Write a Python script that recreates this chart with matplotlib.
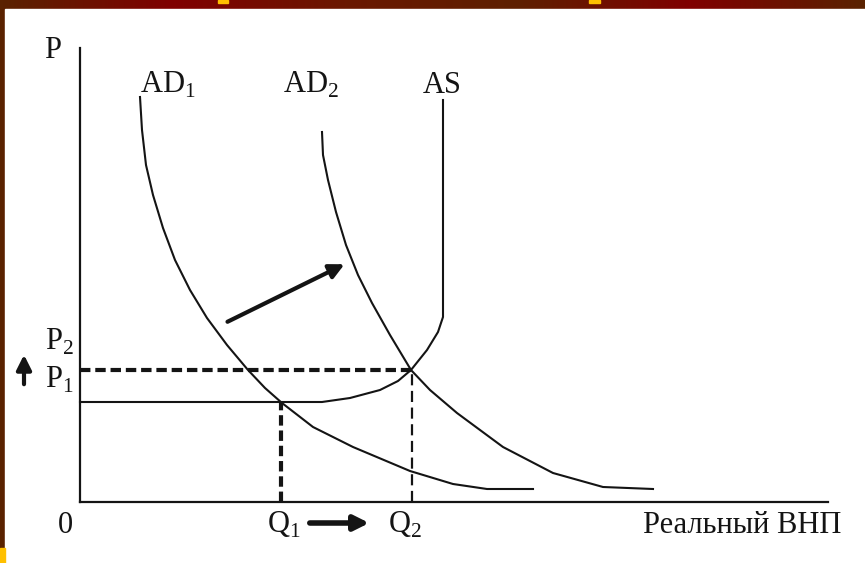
import matplotlib
matplotlib.use("Agg")
import matplotlib.pyplot as plt
import numpy as np
from matplotlib.colors import LinearSegmentedColormap

plt.rcParams['font.family'] = ['Liberation Serif', 'DejaVu Serif']
plt.rcParams['mathtext.fontset'] = 'custom'
plt.rcParams['mathtext.rm'] = 'Liberation Serif'
plt.rcParams['lines.scale_dashes'] = False

# curves in chart units (origin = corner of the axes)
ad1_q = [60, 62, 66, 73, 83, 95, 110, 127, 147, 168, 185, 202, 233, 273, 330, 373, 407, 453]
ad1_p = [405, 372, 337, 307, 274, 242, 212, 184, 157, 132, 114, 99, 75, 55, 31, 18, 13, 13]

ad2_q = [242, 243, 248, 256, 266, 278, 292, 310, 331, 350, 377, 423, 473, 523, 573]
ad2_p = [370, 347, 322, 290, 257, 227, 199, 167, 132, 112, 89, 55, 29, 15, 13]

as_q = [0, 242, 270, 300, 318, 331, 347, 358, 363, 363]
as_p = [100, 100, 104, 112, 121, 132, 152, 170, 185, 402]

q1, p1 = 201, 100
q2, p2 = 332, 132
x_end, y_end = 748, 454

shift_from = (145, 179)
shift_to = (267, 239)

ink = '#141414'

fig = plt.figure(figsize=(8.65, 5.63), dpi=100)

# background: maroon frame with white panel
bg = fig.add_axes([0, 0, 1, 1])
bg.set_xlim(0, 865)
bg.set_ylim(563, 0)
bg.axis('off')
cmap = LinearSegmentedColormap.from_list('frame', ['#5a2200', '#800000', '#6a1800', '#5e2000', '#800000', '#5a2200'])
grad = np.linspace(0, 1, 400).reshape(1, -1)
bg.imshow(grad, cmap=cmap, extent=[0, 865, 563, 0], aspect='auto')
bg.add_patch(plt.Rectangle((5, 9), 860, 554, color='white', zorder=2))
bg.add_patch(plt.Rectangle((0, 548), 5, 15, color='#ffc000', zorder=3))
bg.add_patch(plt.Rectangle((218, 0), 10, 3, color='#ffc000', zorder=3))
bg.add_patch(plt.Rectangle((589, 0), 11, 3, color='#ffc000', zorder=3))

ax = fig.add_axes([0, 0, 1, 1])
ax.set_xlim(-80, 785)
ax.set_ylim(-61, 502)
ax.patch.set_alpha(0)
ax.axis('off')

# axes
ax.plot([0, 0], [0, y_end], color=ink, lw=1.6)
ax.plot([0, x_end], [0, 0], color=ink, lw=1.6)

ax.plot(ad1_q, ad1_p, color=ink, lw=1.5)
ax.plot(ad2_q, ad2_p, color=ink, lw=1.5)
ax.plot(as_q, as_p, color=ink, lw=1.5)

# guide lines
ax.plot([0, q2], [p2, p2], color=ink, lw=3, dashes=(7.5, 3.5))
ax.plot([q1, q1], [0, p1], color=ink, lw=3, dashes=(7.5, 3.5))
ax.plot([q2, q2], [0, p2], color=ink, lw=1.6, dashes=(8, 4))

# arrows
ax.annotate('', xy=shift_to, xytext=shift_from,
            arrowprops=dict(arrowstyle='-|>', lw=3, color=ink, mutation_scale=22))
ax.annotate('', xy=(292, -21), xytext=(227, -21),
            arrowprops=dict(arrowstyle='-|>', lw=4, color=ink, mutation_scale=22))
ax.annotate('', xy=(-56, 150), xytext=(-56, 115),
            arrowprops=dict(arrowstyle='-|>', lw=3, color=ink, mutation_scale=22))

fs = 22
ax.text(-36, 444, 'P', fontsize=fs, color=ink, ha='left', va='baseline')
ax.text(-22, -31, '0', fontsize=fs, color=ink, ha='left', va='baseline')
ax.text(-35, 152, r'P$_\mathregular{2}$', fontsize=fs, color=ink, ha='left', va='baseline')
ax.text(-35, 114, r'P$_\mathregular{1}$', fontsize=fs, color=ink, ha='left', va='baseline')
ax.text(60, 409, r'AD$_\mathregular{1}$', fontsize=fs, color=ink, ha='left', va='baseline')
ax.text(203, 409, r'AD$_\mathregular{2}$', fontsize=fs, color=ink, ha='left', va='baseline')
ax.text(343, 409, 'AS', fontsize=fs, color=ink, ha='left', va='baseline')
ax.text(187, -31, r'Q$_\mathregular{1}$', fontsize=fs, color=ink, ha='left', va='baseline')
ax.text(308, -31, r'Q$_\mathregular{2}$', fontsize=fs, color=ink, ha='left', va='baseline')
ax.text(563, -31, 'Реальный ВНП', fontsize=fs, color=ink, ha='left', va='baseline')

fig.savefig('out.png', dpi=100)
